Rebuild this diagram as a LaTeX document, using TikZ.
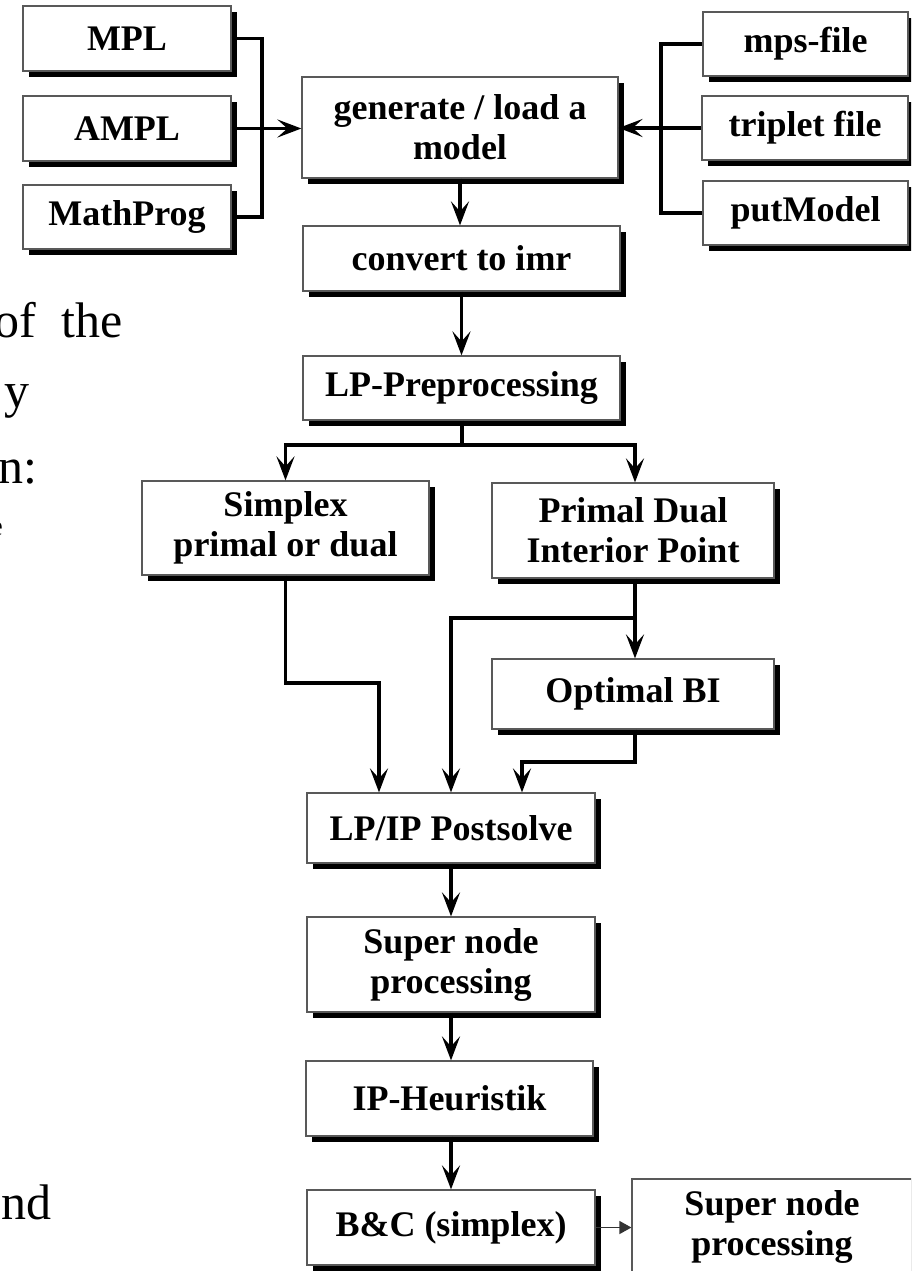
\documentclass[tikz,border=0pt]{standalone}
\usepackage{fontspec}
\setmainfont{Liberation Serif}
\usetikzlibrary{arrows.meta,shadows}
\begin{document}
\begin{tikzpicture}[x=1pt,y=-1pt,
  box/.style={draw=black!65, line width=1.2pt, fill=white, inner sep=0pt,
    align=center, font=\bfseries\fontsize{36}{40}\selectfont,
    drop shadow={shadow xshift=6pt,shadow yshift=-6pt,fill=black,opacity=1}},
  plainbox/.style={draw=black!65, line width=1.2pt, fill=white, inner sep=0pt,
    align=center, font=\bfseries\fontsize{36}{40}\selectfont},
  conn/.style={line width=3.3pt},
  arr/.style={line width=3.3pt, -{Stealth[length=24pt,width=18pt,inset=10pt]}},
  thinarr/.style={line width=1.4pt, black!80, -{Triangle[length=12pt,width=13pt]}},
  big/.style={font=\fontsize{50}{60}\selectfont, inner sep=0pt, anchor=base east}
]
\useasboundingbox (0,0) rectangle (911,1271);
\clip (0,0) rectangle (911,1271);

% background text fragments (justified paragraph, cut at the left edge)
\node[big] (t1a) at (36,337) {of};
\node[big] (t1b) at (123,337) {the};
\node[big] (t2) at (30,407) {y};
\node[big] (t3) at (38,483) {n:};
\node[font=\fontsize{28}{30}\selectfont, inner sep=0pt, anchor=base east] (t4) at (3,535) {e};
\node[big] (t5) at (52,1219) {nd};

% left inputs
\node[box, minimum width=208pt, minimum height=65pt] (mpl) at (127,38.5) {MPL};
\node[box, minimum width=208pt, minimum height=65pt] (ampl) at (127,128.5) {AMPL};
\node[box, minimum width=208pt, minimum height=64pt] (mathprog) at (127,217) {MathProg};

% right inputs
\node[box, minimum width=205pt, minimum height=64pt] (mps) at (805.5,44) {mps-file};
\node[box, minimum width=206pt, minimum height=64pt] (triplet) at (805,128) {triplet file};
\node[box, minimum width=205pt, minimum height=64pt] (putmodel) at (805.5,213) {putModel};

% main column
\node[box, minimum width=316pt, minimum height=101pt] (gen) at (460,127.5) {generate / load a\\model};
\node[box, minimum width=317pt, minimum height=65pt] (conv) at (461.5,258.5) {convert to imr};
\node[box, minimum width=317pt, minimum height=64pt] (lppre) at (461.5,388) {LP-Preprocessing};
\node[box, minimum width=287pt, minimum height=94pt] (simplex) at (285.5,528) {Simplex\\primal or dual};
\node[box, minimum width=282pt, minimum height=95pt] (pd) at (633,530.5) {Primal Dual\\Interior Point};
\node[box, minimum width=282pt, minimum height=70pt] (optbi) at (633,694) {Optimal BI};
\node[box, minimum width=288pt, minimum height=70pt] (post) at (451,828) {LP/IP Postsolve};
\node[box, minimum width=288pt, minimum height=95pt] (super) at (451,964.5) {Super node\\processing};
\node[box, minimum width=287pt, minimum height=75pt] (iph) at (449.5,1098.5) {IP-Heuristik};
\node[box, minimum width=288pt, minimum height=75pt] (bc) at (451,1227.5) {B\&C (simplex)};
\node[plainbox, minimum width=280pt, minimum height=95pt] (super2) at (772,1226.5) {Super node\\processing};

% coordinates
\coordinate (jl) at (262,128);
\coordinate (jr) at (661,128);
\coordinate (fork) at (462,445);
\coordinate (s1) at (379,683);
\coordinate (b1) at (635,618);
\coordinate (o1) at (522,762);

% connectors
\draw[conn] (mpl.east) -| (jl) |- (mathprog.east);
\draw[arr] (ampl.east) -- (ampl.east -| gen.west);
\draw[conn] (mps.west) -| (jr) |- (putmodel.west);
\draw[arr] (triplet.west) -- (triplet.west -| gen.east);
\draw[arr] (gen.south) -- (gen.south |- conv.north);
\draw[arr] (conv.south) -- (conv.south |- lppre.north);
\draw[conn] (lppre.south -| fork) -- (fork);
\draw[arr] (fork) -| (simplex.north);
\draw[arr] (fork) -| (pd.north -| b1);
\draw[arr] (simplex.south) |- (s1) -- (s1 |- post.north);
\draw[arr] (pd.south -| b1) -- (optbi.north -| b1);
\draw[arr] (b1) -| (post.north);
\draw[arr] (optbi.south -| b1) |- (o1) -- (o1 |- post.north);
\draw[arr] (post.south) -- (super.north);
\draw[arr] (super.south) -- (super.south |- iph.north);
\draw[arr] (iph.south -| bc.north) -- (bc.north);
\draw[thinarr] (bc.east) -- (bc.east -| super2.west);
\end{tikzpicture}
\end{document}
